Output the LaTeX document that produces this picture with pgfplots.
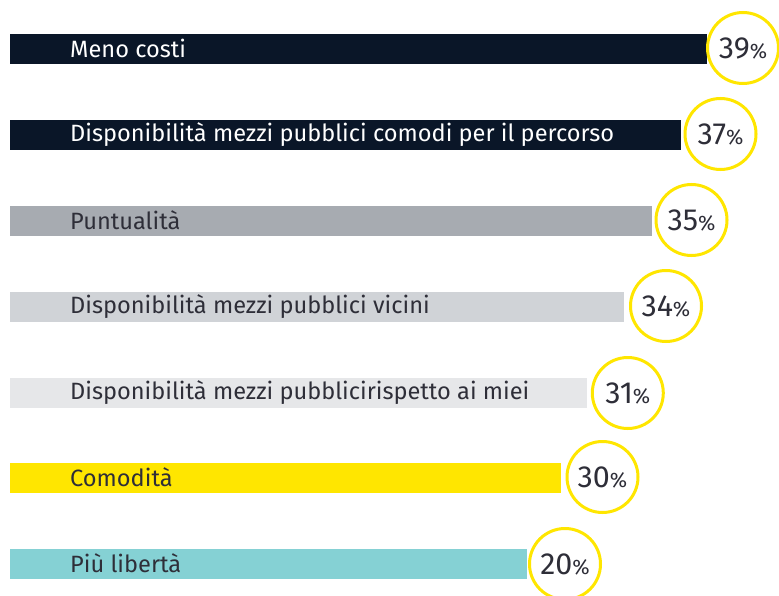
\documentclass[border=0pt]{standalone}
\usepackage{pgfplots}
\pgfplotsset{compat=1.18}
\usepackage{fontspec}
\setmainfont{Fira Sans}
\definecolor{eyDark}{HTML}{0A1628}
\definecolor{eyGray1}{HTML}{A7ABB1}
\definecolor{eyGray2}{HTML}{D0D3D7}
\definecolor{eyGray3}{HTML}{E6E7E9}
\definecolor{eyYellow}{HTML}{FFE600}
\definecolor{eyTeal}{HTML}{85D1D4}
\definecolor{eyText}{HTML}{2E2E38}
\begin{document}
\begin{tikzpicture}
\begin{axis}[
  scale only axis, width=779bp, height=596bp,
  xmin=-10, xmax=769, ymin=0, ymax=596, y dir=reverse,
  hide axis, clip=false,
]
% bars (x = bar end in chart units, origin at bar start)
\addplot[xbar, bar shift=0pt, bar width=30, fill=eyDark, draw=none] coordinates {(696.7,49)};
\addplot[xbar, bar shift=0pt, bar width=30, fill=eyDark, draw=none] coordinates {(670.7,135)};
\addplot[xbar, bar shift=0pt, bar width=30, fill=eyGray1, draw=none] coordinates {(641.7,221)};
\addplot[xbar, bar shift=0pt, bar width=30, fill=eyGray2, draw=none] coordinates {(614.3,307)};
\addplot[xbar, bar shift=0pt, bar width=30, fill=eyGray3, draw=none] coordinates {(576.7,393)};
\addplot[xbar, bar shift=0pt, bar width=30, fill=eyYellow, draw=none] coordinates {(550.7,478)};
\addplot[xbar, bar shift=0pt, bar width=30, fill=eyTeal, draw=none] coordinates {(516.7,564)};
% category labels
\addplot[draw=none, nodes near coords, point meta=explicit symbolic,
  nodes near coords style={anchor=west, inner sep=0pt, text=white, font=\fontsize{23.6bp}{26bp}\selectfont}]
  coordinates {(60,48.5) [Meno costi] (60,134.5) [Disponibilità mezzi pubblici comodi per il percorso]};
\addplot[draw=none, nodes near coords, point meta=explicit symbolic,
  nodes near coords style={anchor=west, inner sep=0pt, text=eyText, font=\fontsize{23.6bp}{26bp}\selectfont}]
  coordinates {(60,220.5) [Puntualità] (60,306.5) [Disponibilità mezzi pubblici vicini]
   (60,392.5) [Disponibilità mezzi pubblicirispetto ai miei] (60,477.5) [Comodità] (60,563.5) [Più libertà]};
% value circles
\addplot[only marks, mark=*, mark size=35.5bp,
  mark options={draw=eyYellow, fill=white, line width=3bp},
  nodes near coords={\fontsize{30.5bp}{32bp}\selectfont\pgfplotspointmeta\fontsize{21bp}{22bp}\selectfont\%},
  point meta=explicit symbolic,
  nodes near coords style={anchor=center, inner sep=0pt, text=eyText}]
  coordinates {(733,48) [39] (710.5,134) [37] (681.5,220) [35] (656,306) [34] (617.8,393) [31] (592.5,477) [30] (555,564) [20]};
\end{axis}
\pgfresetboundingbox
\useasboundingbox (current axis.south west) rectangle (current axis.north east);
\end{tikzpicture}
\end{document}
